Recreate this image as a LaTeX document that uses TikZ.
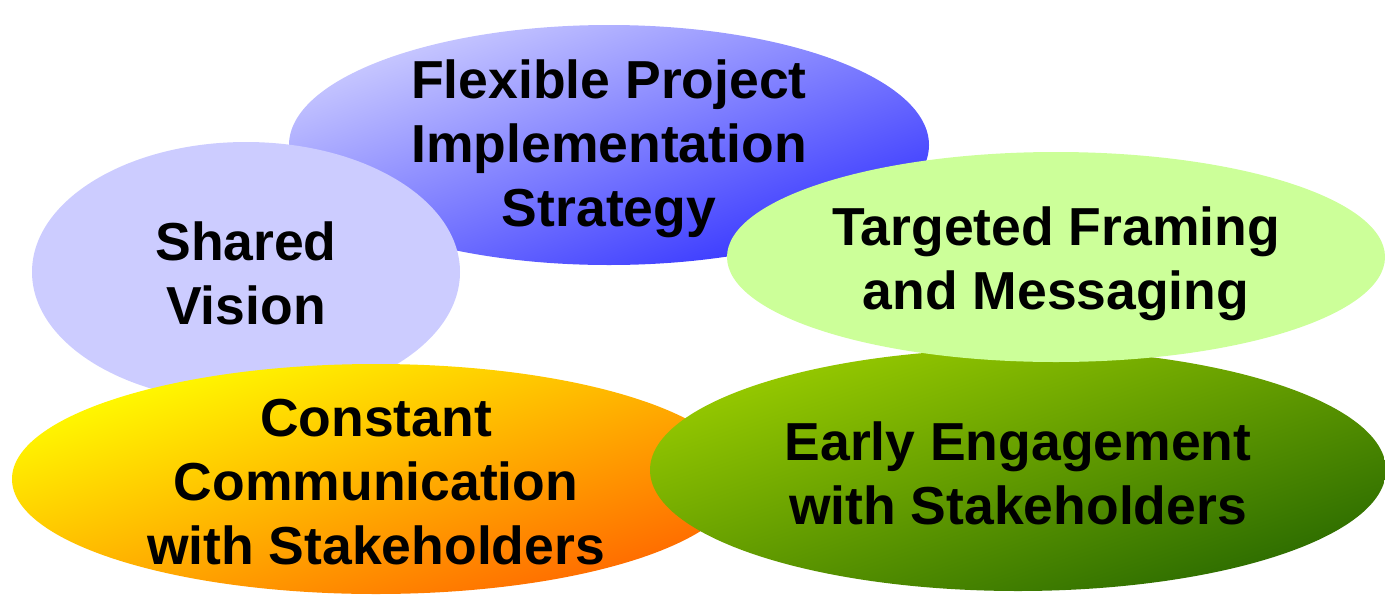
\documentclass[tikz,border=0pt]{standalone}
\usepackage{fontspec}
\setmainfont{Liberation Sans}
\usetikzlibrary{shapes.geometric}
\definecolor{lavlight}{HTML}{CCCCFF}
\definecolor{bluedark}{HTML}{3333FF}
\definecolor{limelight}{HTML}{CCFF99}
\definecolor{yel}{HTML}{FFFF00}
\definecolor{ora}{HTML}{FF6600}
\definecolor{grnlight}{HTML}{99CC00}
\definecolor{grndark}{HTML}{2A6A00}
\newcommand\mystrut[1]{\rule{0pt}{#1pt}}
\begin{document}
\begin{tikzpicture}[x=1pt,y=-1pt,
  oval/.style={ellipse, inner sep=-40pt, draw=none, align=center,
    font=\fontsize{53.5}{64}\selectfont\bfseries},
]
\useasboundingbox (0,0) rectangle (1385,595);
\node[oval, minimum width=640pt, minimum height=240pt,
  top color=lavlight, bottom color=bluedark, shading angle=20] (flex) at (609,145)
  {\mystrut{47}Flexible Project\\Implementation\\Strategy};
\node[oval, minimum width=428pt, minimum height=260pt, fill=lavlight] (shared) at (246,272)
  {\mystrut{42}Shared\\Vision};
\node[oval, minimum width=728pt, minimum height=230pt,
  top color=yel, bottom color=ora, shading angle=18] (const) at (376,479)
  {\mystrut{44}Constant\\Communication\\with Stakeholders};
\node[oval, minimum width=736pt, minimum height=242pt,
  top color=grnlight, bottom color=grndark, shading angle=18] (early) at (1018,470)
  {\mystrut{45}Early Engagement\\with Stakeholders};
\node[oval, minimum width=658pt, minimum height=210pt, fill=limelight] (target) at (1056,257)
  {\mystrut{52}Targeted Framing\\and Messaging};
\end{tikzpicture}
\end{document}
